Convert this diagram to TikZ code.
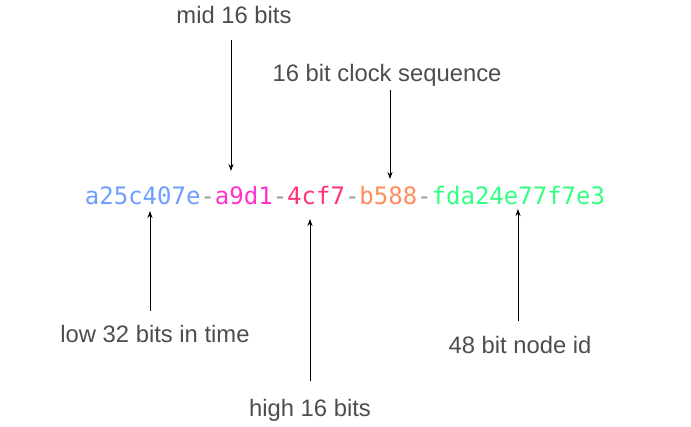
\documentclass[tikz,border=0pt]{standalone}
\usepackage{fontspec}
\setmainfont{Liberation Sans}
\newfontfamily\uuidfont{DejaVu Sans Mono}
\usetikzlibrary{arrows.meta}
\definecolor{labelgray}{HTML}{4D4D4D}
\definecolor{cblue}{HTML}{6E9EFF}
\definecolor{cmag}{HTML}{FF33CC}
\definecolor{cred}{HTML}{FF3377}
\definecolor{corange}{HTML}{FF8C5A}
\definecolor{cgreen}{HTML}{33FF80}
\definecolor{cdash}{HTML}{999999}
\tikzset{
  lbl/.style={font=\fontsize{23.8}{27}\selectfont, text=labelgray, inner sep=0pt},
  uuid/.style={font=\uuidfont\fontsize{24}{28}\selectfont, inner sep=0pt},
  ptr/.style={draw=black, line width=0.9pt, -{Stealth[length=7pt,width=5pt]}},
}
\begin{document}
\begin{tikzpicture}[x=1pt,y=-1pt]
\useasboundingbox (0,0) rectangle (691,426);
\node[uuid] (id) at (345,196) {\textcolor{cblue}{a25c407e}\textcolor{cdash}{-}\textcolor{cmag}{a9d1}\textcolor{cdash}{-}\textcolor{cred}{4cf7}\textcolor{cdash}{-}\textcolor{corange}{b588}\textcolor{cdash}{-}\textcolor{cgreen}{fda24e77f7e3}};
\node[lbl] (mid) at (234,15) {mid 16 bits};
\node[lbl] (clk) at (387,75) {16 bit clock sequence};
\node[lbl] (low) at (155,334) {low 32 bits in time};
\node[lbl] (high) at (310,410) {high 16 bits};
\node[lbl] (node) at (520,345) {48 bit node id};
\coordinate (midS) at (231,40);
\coordinate (midE) at (231,171);
\coordinate (clkS) at (390,90);
\coordinate (clkE) at (390,179);
\coordinate (lowS) at (150,311);
\coordinate (lowE) at (150,211);
\coordinate (highS) at (310,381);
\coordinate (highE) at (310,219);
\coordinate (nodeS) at (518,321);
\coordinate (nodeE) at (518,209);
\draw[ptr] (midS) -- (midE);
\draw[ptr] (clkS) -- (clkE);
\draw[ptr] (lowS) -- (lowE);
\draw[ptr] (highS) -- (highE);
\draw[ptr] (nodeS) -- (nodeE);
\end{tikzpicture}
\end{document}
